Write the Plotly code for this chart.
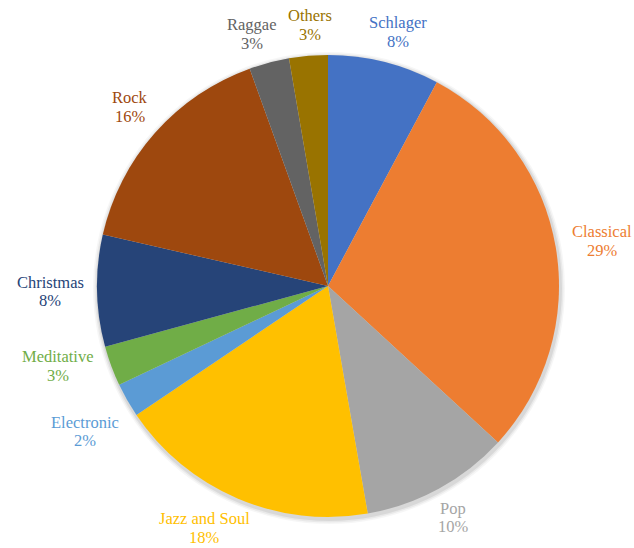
import math
import plotly.graph_objects as go

# Music genres, listed clockwise from 12 o'clock
genres = ["Schlager", "Classical", "Pop", "Jazz and Soul", "Electronic",
          "Meditative", "Christmas", "Rock", "Raggae", "Others"]
shares = [7.8, 29.0, 10.4, 18.3, 2.4, 2.8, 7.8, 15.9, 2.8, 2.7]
slice_colors = ["#4472C4", "#ED7D31", "#A5A5A5", "#FFC000", "#5B9BD5",
                "#70AD47", "#264478", "#9E480E", "#636363", "#997300"]

W, H = 634, 548
CX, CY, R = 328, 286, 231          # pie centre and radius in pixels
FONT = "Liberation Serif, DejaVu Serif, serif"
FS = 16.5
LINE = 18.5                        # baseline-to-baseline spacing of the two label lines
GAP = 14                           # distance of the label anchor beyond the rim
EDGE = 16.5                        # label centres stay this far inside the canvas
BOX_H = 33
PAD_X, PAD_Y = 14, 31              # minimum spacing between neighbouring labels


def domain(cx, cy, r):
    return dict(x=[(cx - r) / W, (cx + r) / W],
                y=[1 - (cy + r) / H, 1 - (cy - r) / H])


def clamp(t):
    return max(-1.0, min(1.0, t))


def place(lab):
    """Centre of a label box anchored beyond the rim at angle lab['ang']."""
    ux, uy = math.sin(lab["ang"]), -math.cos(lab["ang"])
    ax, ay = CX + ux * (R + GAP), CY + uy * (R + GAP)
    x = ax + clamp(1.5 * ux) * lab["w"] / 2
    y = ay + clamp(1.5 * uy) * BOX_H / 2
    return x, min(max(y, EDGE), H - EDGE)


fig = go.Figure()

# soft drop shadow underneath the pie
for k, alpha in [(5, 0.035), (3.5, 0.05), (2, 0.07)]:
    fig.add_trace(go.Pie(values=[1], labels=["shadow"], domain=domain(CX + 1, CY + 2, R + k),
                         marker=dict(colors=[f"rgba(0,0,0,{alpha})"]),
                         textinfo="none", hoverinfo="skip", showlegend=False, sort=False))

fig.add_trace(go.Pie(
    labels=genres, values=shares, sort=False, direction="clockwise", rotation=0,
    domain=domain(CX, CY, R),
    marker=dict(colors=slice_colors, line=dict(width=0)),
    textinfo="none", showlegend=False,
))

# one label per slice, starting at the slice's mid-angle
total = sum(shares)
cum = 0.0
labels = []
for name, v, col in zip(genres, shares, slice_colors):
    mid = (cum + v / 2) / total * 2 * math.pi
    cum += v
    pct = f"{round(v / total * 100)}%"
    labels.append(dict(name=name, pct=pct, col=col, ang=mid,
                       w=max(len(name), len(pct)) * FS * 0.44))

# slide colliding neighbours apart along the rim
step = math.radians(0.3)
for _ in range(400):
    moved = False
    n = len(labels)
    for i in range(n):
        a, b = labels[i], labels[(i + 1) % n]
        (xa, ya), (xb, yb) = place(a), place(b)
        ox = (a["w"] + b["w"]) / 2 + PAD_X - abs(xa - xb)
        oy = BOX_H + PAD_Y - abs(ya - yb)
        if ox > 0 and oy > 0:
            moved = True
            a["ang"] -= step
            b["ang"] += step
    if not moved:
        break

annotations = []
for lab in labels:
    x, y = place(lab)
    for text, dy in [(lab["name"], -LINE / 2), (lab["pct"], LINE / 2)]:
        annotations.append(dict(
            x=x / W, y=1 - (y + dy) / H, xref="paper", yref="paper",
            text=text, showarrow=False, xanchor="center", yanchor="middle",
            font=dict(family=FONT, size=FS, color=lab["col"]),
        ))

fig.update_layout(
    width=W, height=H, margin=dict(l=0, r=0, t=0, b=0),
    paper_bgcolor="white", plot_bgcolor="white",
    font=dict(family=FONT, size=FS),
    annotations=annotations,
)

fig.write_html("out.html")
